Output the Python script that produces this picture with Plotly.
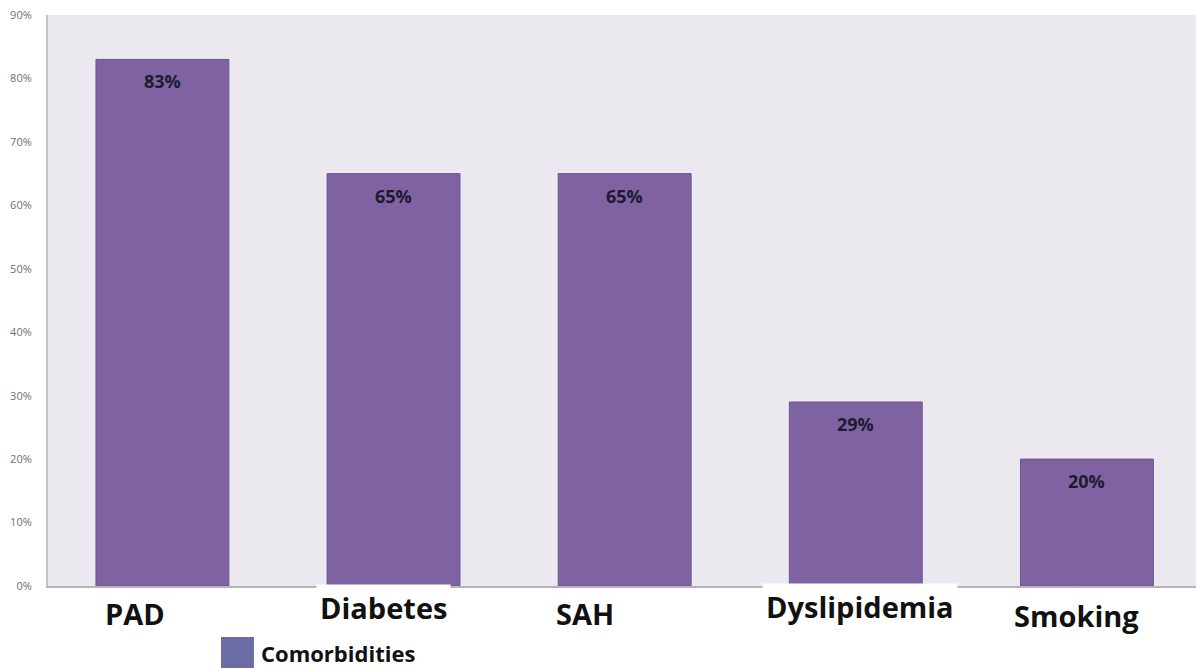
import plotly.graph_objects as go

categories = ["PAD", "Diabetes", "SAH", "Dyslipidemia", "Smoking"]
values = [0.83, 0.65, 0.65, 0.29, 0.20]
series_name = "Comorbidities"
y_ticks = [0, 0.1, 0.2, 0.3, 0.4, 0.5, 0.6, 0.7, 0.8, 0.9]

# label placement tweaks (pixels / paper) to mimic the hand-placed category labels
label_xshift = [-27, -10, -40, 4, -10]
label_y = [-0.049, -0.037, -0.049, -0.036, -0.051]

BAR = "#7f62a1"
SWATCH = "#6b6ca3"
FONT = "Open Sans, Noto Sans, DejaVu Sans, sans-serif"

fig = go.Figure()
fig.add_trace(go.Bar(
    x=categories, y=values, name=series_name,
    marker=dict(color=BAR, line=dict(color="#6e5490", width=1)),
    showlegend=False, hoverinfo="x+y",
))

annotations = []
for c, v in zip(categories, values):
    annotations.append(dict(
        x=c, y=v, xref="x", yref="y", text=f"<b>{round(v*100)}%</b>",
        showarrow=False, yshift=-22, yanchor="middle",
        font=dict(family=FONT, size=18, color="#1e1a30"),
    ))
for c, xs, yl in zip(categories, label_xshift, label_y):
    annotations.append(dict(
        x=c, y=yl, xref="x", yref="paper", text=f"<b>{c}</b>",
        showarrow=False, xshift=xs, yanchor="middle",
        font=dict(family=FONT, size=29, color="#111111"),
        bgcolor="white", borderpad=3,
    ))
annotations.append(dict(
    x=0.184, y=-0.117, xref="paper", yref="paper", text=f"<b>{series_name}</b>",
    showarrow=False, xanchor="left", yanchor="middle",
    font=dict(family=FONT, size=22, color="#111111"),
))

fig.update_layout(
    width=1197, height=668,
    margin=dict(l=48, r=1, t=15, b=82),
    paper_bgcolor="white",
    plot_bgcolor="#ebe8ef",
    bargap=0.425,
    font=dict(family=FONT),
    annotations=annotations,
    shapes=[dict(type="rect", xref="paper", yref="paper",
                 x0=0.1507, x1=0.1794, y0=-0.0893, y1=-0.1436,
                 fillcolor=SWATCH, line=dict(width=0))],
    xaxis=dict(showticklabels=False, showline=True, linecolor="#b5b3b8",
               linewidth=2, showgrid=False, zeroline=False,
               range=[-0.495, 4.472]),
    yaxis=dict(range=[0, 0.9], tickvals=y_ticks, tickformat=".0%",
               showgrid=False, zeroline=False, showline=True,
               linecolor="#c4c2c8", linewidth=2, ticks="",
               ticklabelstandoff=12,
               tickfont=dict(family=FONT, size=11, color="#707070")),
)

fig.write_html("out.html")
